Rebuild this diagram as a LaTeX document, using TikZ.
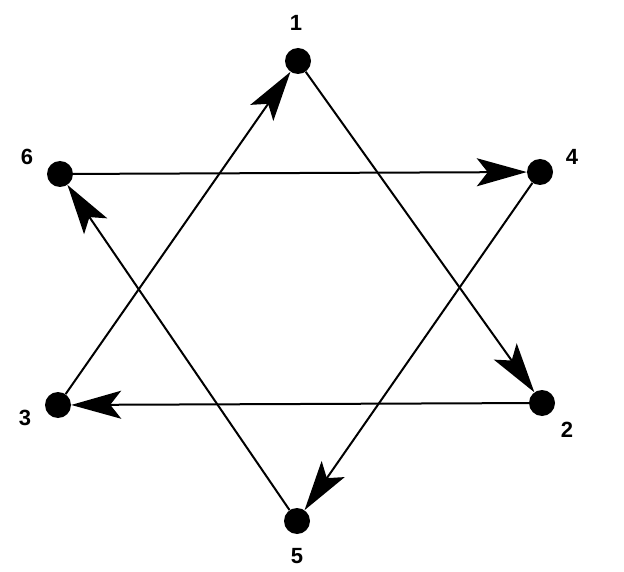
\documentclass[tikz,border=0pt]{standalone}
\usepackage{fontspec}
\setmainfont{Liberation Sans}
\usetikzlibrary{arrows.meta}
\begin{document}
\begin{tikzpicture}[x=1pt,y=-1pt,
  dot/.style={circle,fill=black,inner sep=0pt,minimum size=26pt},
  lbl/.style={font=\fontsize{22}{22}\selectfont\bfseries},
  edge/.style={line width=2pt,-{Stealth[length=50pt,width=28pt,inset=11pt]}}]
\useasboundingbox (0,0) rectangle (624,572);
\node[dot] (n1) at (298,61) {};
\node[dot] (n4) at (540,172) {};
\node[dot] (n2) at (542,403) {};
\node[dot] (n5) at (297,521) {};
\node[dot] (n3) at (58,405) {};
\node[dot] (n6) at (60,174) {};
\node[lbl] (l1) at (296,23) {1};
\node[lbl] (l4) at (572,157) {4};
\node[lbl] (l2) at (567,430) {2};
\node[lbl] (l5) at (297,556) {5};
\node[lbl] (l3) at (25,418) {3};
\node[lbl] (l6) at (27,157) {6};
\draw[edge] (n1) -- (n2);
\draw[edge] (n2) -- (n3);
\draw[edge] (n3) -- (n1);
\draw[edge] (n6) -- (n4);
\draw[edge] (n4) -- (n5);
\draw[edge] (n5) -- (n6);
\end{tikzpicture}
\end{document}
